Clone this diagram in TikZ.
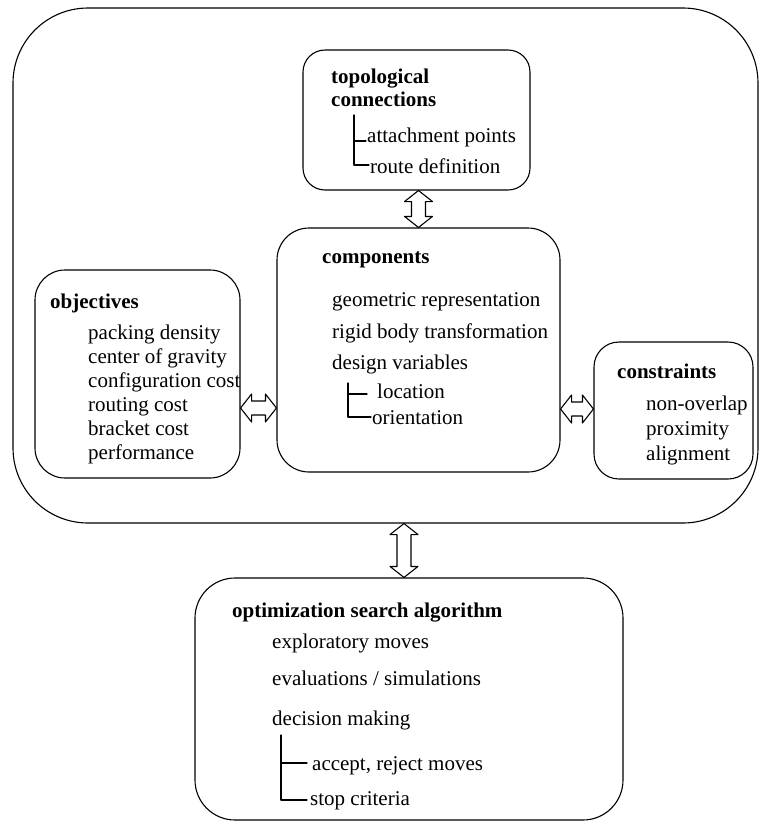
\documentclass[tikz,border=0pt]{standalone}
\usepackage{fontspec}
\setmainfont{Liberation Serif}
\usetikzlibrary{calc}

% hollow two-headed block arrow between two points
\newcommand{\dblarrow}[2]{%
  \draw[hollowarrow] let \p1=(#1), \p2=(#2),
    \n1={atan2(\y2-\y1,\x2-\x1)}, \n2={veclen(\x2-\x1,\y2-\y1)} in
    [shift={(\p1)},rotate=\n1]
    (0,0) -- (11,14) -- (11,7) -- ({\n2-11},7) -- ({\n2-11},14) -- (\n2,0)
    -- ({\n2-11},-14) -- ({\n2-11},-7) -- (11,-7) -- (11,-14) -- cycle;}

\begin{document}
\begin{tikzpicture}[x=1pt,y=-1pt,line cap=round,line join=round,
  panel/.style={draw,line width=1.1pt,inner sep=0pt},
  head/.style={anchor=base west,inner sep=0pt,font=\fontsize{21}{24}\selectfont\bfseries},
  item/.style={anchor=base west,inner sep=0pt,font=\fontsize{21}{24}\selectfont},
  tree/.style={line width=1.1pt},
  hollowarrow/.style={draw,line width=1.1pt,fill=white}]
\path[use as bounding box] (0,0) rectangle (760,828);
% boxes
\node[panel,rounded corners=75pt,minimum width=745pt,minimum height=515pt] (outer) at (385.5,265.5) {};
\node[panel,rounded corners=22pt,minimum width=227pt,minimum height=140pt] (topo) at (416.5,120) {};
\node[panel,rounded corners=32pt,minimum width=283pt,minimum height=244pt] (comp) at (418.5,350) {};
\node[panel,rounded corners=30pt,minimum width=205pt,minimum height=208pt] (obj) at (137.5,374) {};
\node[panel,rounded corners=25pt,minimum width=159pt,minimum height=137pt] (cons) at (673.5,410.5) {};
\node[panel,rounded corners=40pt,minimum width=428pt,minimum height=242pt] (alg) at (409,699) {};
% topological connections
\node[head] (topo-h1) at (331,83) {topological};
\node[head] (topo-h2) at (331,106) {connections};
\node[item] (topo-1) at (367,142) {attachment points};
\node[item] (topo-2) at (370,173) {route definition};
\draw[tree] (354,115) -- (354,165) -- (369,165);
\draw[tree] (354,141) -- (366,141);
% components
\node[head] (comp-h) at (322,263) {components};
\node[item] (comp-1) at (332,306) {geometric representation};
\node[item] (comp-2) at (332,338) {rigid body transformation};
\node[item] (comp-3) at (332,369) {design variables};
\node[item] (comp-4) at (377,398) {location};
\node[item] (comp-5) at (372,424) {orientation};
\draw[tree] (348,383) -- (348,417) -- (371,417);
\draw[tree] (348,394) -- (367,394);
% objectives
\node[head] (obj-h) at (50,308) {objectives};
\foreach \txt [count=\i] in {packing density,center of gravity,configuration cost,routing cost,bracket cost,performance}
  \node[item] (obj-\i) at (88,{315+24*\i}) {\txt};
% constraints
\node[head] (cons-h) at (617,378) {constraints};
\foreach \txt [count=\i] in {non-overlap,proximity,alignment}
  \node[item] (cons-\i) at (646,{385+25*\i}) {\txt};
% optimization search algorithm
\node[head] (alg-h) at (232,617) {optimization search algorithm};
\node[item] (alg-1) at (272,648) {exploratory moves};
\node[item] (alg-2) at (272,685) {evaluations / simulations};
\node[item] (alg-3) at (272,725) {decision making};
\node[item] (alg-4) at (312,770) {accept, reject moves};
\node[item] (alg-5) at (310,805) {stop criteria};
\draw[tree] (281,735) -- (281,800) -- (307,800);
\draw[tree] (281,763) -- (307,763);
% arrows
\dblarrow{comp.north |- topo.south}{comp.north}
\dblarrow{obj.east |- 0,408}{comp.west |- 0,408}
\dblarrow{comp.east |- 0,409}{cons.west |- 0,409}
\dblarrow{outer.south -| 404,0}{alg.north -| 404,0}
\end{tikzpicture}
\end{document}
